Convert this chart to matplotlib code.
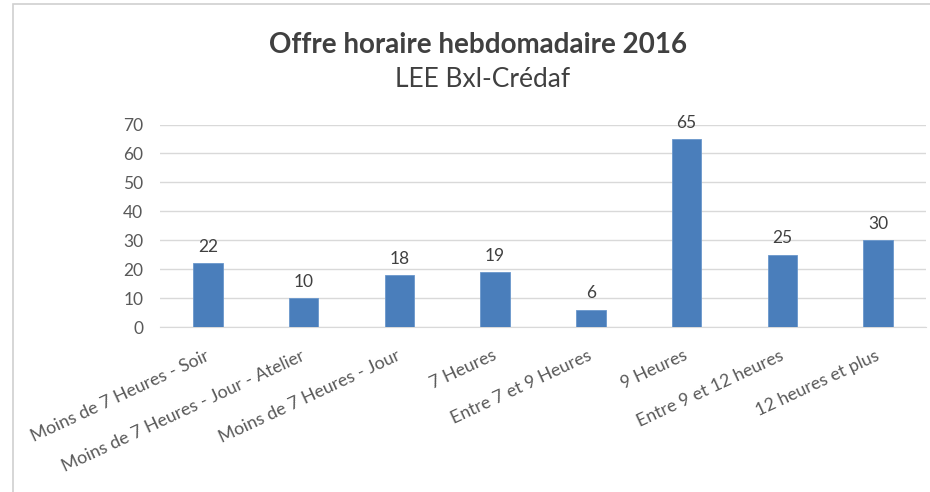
import matplotlib

matplotlib.use("Agg")
import matplotlib.pyplot as plt
from matplotlib.patches import Rectangle

categories = [
    "Moins de 7 Heures - Soir",
    "Moins de 7 Heures - Jour - Atelier",
    "Moins de 7 Heures - Jour",
    "7 Heures",
    "Entre 7 et 9 Heures",
    "9 Heures",
    "Entre 9 et 12 heures",
    "12 heures et plus",
]
values = [22, 10, 18, 19, 6, 65, 25, 30]
yticks = [0, 10, 20, 30, 40, 50, 60, 70]

plt.rcParams["font.family"] = ["Lato", "DejaVu Sans"]

W, H = 930, 492
fig = plt.figure(figsize=(W / 100, H / 100), dpi=100)
fig.patch.set_facecolor("white")

# light frame around the chart object
fig.patches.append(Rectangle((13 / W, -0.1), 1.2, 1.1 - 4 / H, transform=fig.transFigure,
                             fill=False, edgecolor="#d0d0d0", linewidth=1.2))

ax = fig.add_axes([160 / W, 1 - 327 / H, 766 / W, (327 - 124.5) / H])
x = list(range(len(categories)))
ax.bar(x, values, width=0.31, color="#4a7ebb", edgecolor="#6a97cc",
       linewidth=0.6, zorder=3)
for xi, v in zip(x, values):
    ax.annotate(str(v), (xi, v), xytext=(0, 6), textcoords="offset points",
                ha="center", va="bottom", fontsize=12.5, color="#404040")

ax.set_xlim(-0.5, len(categories) - 0.5)
ax.set_ylim(0, 70)
ax.set_yticks(yticks)
ax.set_yticklabels([str(t) for t in yticks], fontsize=12.5, color="#595959")
ax.yaxis.grid(True, color="#d9d9d9", linewidth=1, zorder=0)
ax.tick_params(axis="both", length=0)
ax.tick_params(axis="y", pad=12)
for s in ["top", "right", "left"]:
    ax.spines[s].set_visible(False)
ax.spines["bottom"].set_color("#d9d9d9")

ax.set_xticks(x)
ax.set_xticklabels(categories, rotation=25, ha="right", va="center",
                   rotation_mode="anchor", fontsize=12.8, color="#595959")
ax.tick_params(axis="x", pad=20)

fig.text(478 / W, 1 - 45 / H, "Offre horaire hebdomadaire 2016", ha="center", va="center",
         fontsize=20, fontweight="bold", color="#404040")
fig.text(483 / W, 1 - 79 / H, "LEE Bxl-Crédaf", ha="center", va="center",
         fontsize=19, color="#404040")

fig.savefig("out.png", dpi=100)
